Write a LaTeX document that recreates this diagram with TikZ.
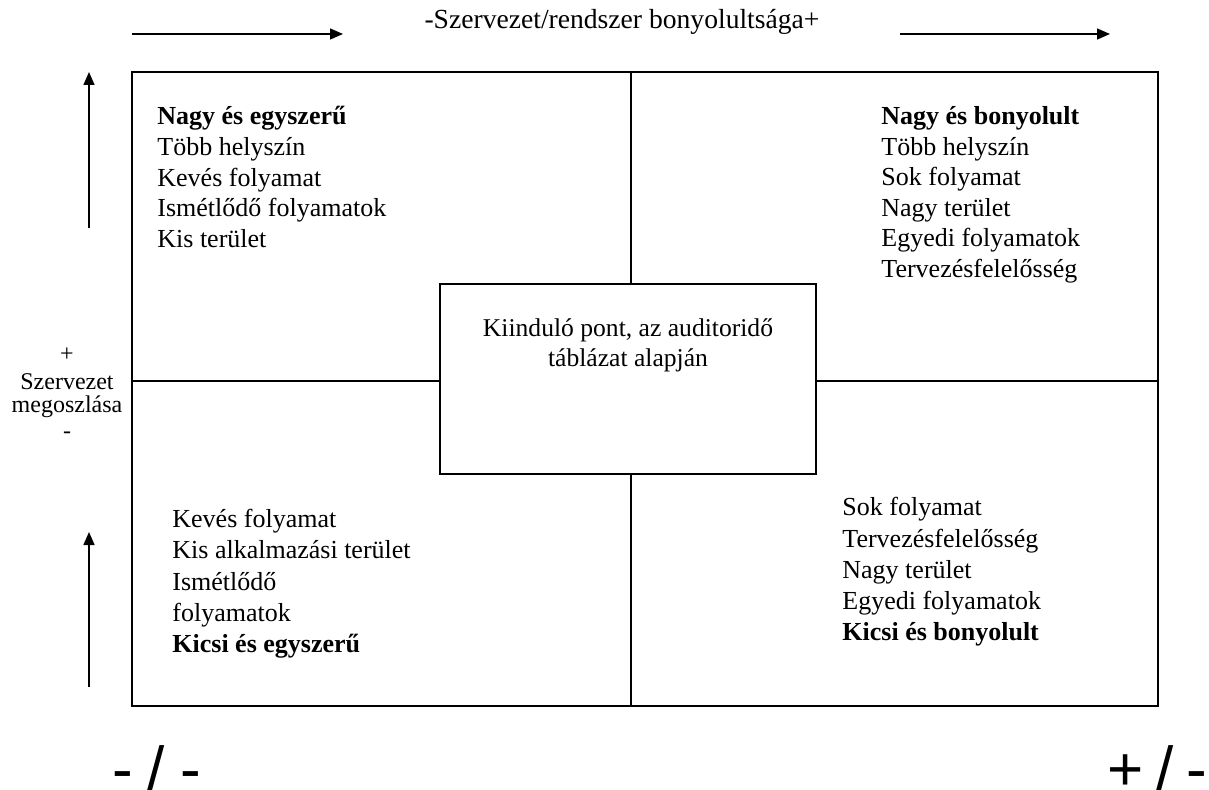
\documentclass[tikz,border=0pt]{standalone}
\usepackage{fontspec}
\setmainfont{Liberation Serif}
\newfontfamily\signfont{Liberation Sans}
\usetikzlibrary{arrows.meta}
\begin{document}
\begin{tikzpicture}[x=0.5pt,y=-0.5pt,
  frame/.style={line width=1pt},
  axis/.style={line width=0.7pt,-{Triangle[length=6.5pt,width=5.5pt]}},
  txt/.style={anchor=base west,inner sep=0pt,font=\fontsize{13}{15}\selectfont},
  ctxt/.style={anchor=base,inner sep=0pt,font=\fontsize{12.8}{15}\selectfont},
  lab/.style={anchor=base,inner sep=0pt,font=\fontsize{12}{14}\selectfont},
  sign/.style={anchor=base west,inner sep=0pt,font=\signfont\fontsize{31}{36}\selectfont},
  centerbox/.style={draw,frame,fill=white,minimum width=188pt,minimum height=95pt,inner sep=0pt}
]
\useasboundingbox (0,0) rectangle (1209,790);
% frame
\coordinate (nw) at (132,72);
\coordinate (se) at (1158,706);
\coordinate (tm) at (631,72);
\coordinate (bm) at (631,706);
\coordinate (lm) at (132,381);
\coordinate (rm) at (1158,381);
\draw[frame] (nw) rectangle (se);
\node[centerbox] (box) at (628,379) {};
\draw[frame] (tm) -- (tm |- box.north);
\draw[frame] (bm) -- (bm |- box.south);
\draw[frame] (lm) -- (lm -| box.west);
\draw[frame] (rm) -- (rm -| box.east);
% center text
\node[ctxt] (c1) at (628,337) {Kiinduló pont, az auditoridő};
\node[ctxt] (c2) at (628,367) {táblázat alapján};
% top title and arrows
\node[ctxt,font=\fontsize{13.8}{16}\selectfont] (title) at (622,29) {-Szervezet/rendszer bonyolultsága+};
\coordinate (a1s) at (132,34); \coordinate (a1e) at (343,34);
\coordinate (a2s) at (900,34); \coordinate (a2e) at (1110,34);
\draw[axis] (a1s) -- (a1e);
\draw[axis] (a2s) -- (a2e);
% left arrows
\coordinate (v1s) at (89,228); \coordinate (v1e) at (89,72);
\coordinate (v2s) at (89,687); \coordinate (v2e) at (89,532);
\draw[axis] (v1s) -- (v1e);
\draw[axis] (v2s) -- (v2e);
% left label
\node[lab] (l1) at (67,362) {+};
\node[lab] (l2) at (67,390) {Szervezet};
\node[lab] (l3) at (67,413) {megoszlása};
\node[lab] (l4) at (67,439) {-};
% quadrants
\foreach \t [count=\i] in {{\textbf{Nagy és egyszerű}},Több helyszín,Kevés folyamat,Ismétlődő folyamatok,Kis terület}
  \node[txt] (tl\i) at (157,{125+(\i-1)*30.6}) {\t};
\foreach \t [count=\i] in {{\textbf{Nagy és bonyolult}},Több helyszín,Sok folyamat,Nagy terület,Egyedi folyamatok,Tervezésfelelősség}
  \node[txt] (tr\i) at (881,{125+(\i-1)*30.5}) {\t};
\foreach \t [count=\i] in {Kevés folyamat,Kis alkalmazási terület,Ismétlődő,folyamatok,{\textbf{Kicsi és egyszerű}}}
  \node[txt] (bl\i) at (172,{528+(\i-1)*31}) {\t};
\foreach \t [count=\i] in {Sok folyamat,Tervezésfelelősség,Nagy terület,Egyedi folyamatok,{\textbf{Kicsi és bonyolult}}}
  \node[txt] (br\i) at (842,{516+(\i-1)*31}) {\t};
% bottom signs
\node[sign] (s1) at (112,790) {-\hspace{7.5pt}/\hspace{7.5pt}-};
\node[sign] (s2) at (1107,790) {+\hspace{6.5pt}/\hspace{6.5pt}-};
\end{tikzpicture}
\end{document}
